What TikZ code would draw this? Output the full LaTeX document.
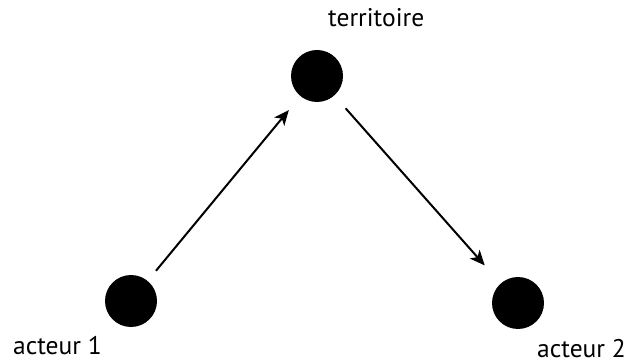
\documentclass[tikz,border=0pt]{standalone}
\usepackage{fontspec}
\setmainfont{PT Sans}
\usetikzlibrary{arrows.meta}
\begin{document}
\begin{tikzpicture}[x=1pt,y=-1pt,
  dot/.style={circle,fill=black,minimum size=52pt,inner sep=0pt},
  lbl/.style={inner sep=0pt,font=\fontsize{25.5}{30}\selectfont},
  conn/.style={line width=2pt,-{Stealth[length=15pt,width=13pt,inset=4pt]}}]
\useasboundingbox (0,0) rectangle (629,363);
\node[dot] (a1) at (131,301) {};
\node[dot] (t) at (317,76) {};
\node[dot] (a2) at (518,303) {};
\node[lbl,anchor=base west] (lt) at (328,27) {territoire};
\node[lbl,anchor=base west] (la1) at (13,354) {acteur 1};
\node[lbl,anchor=base east] (la2) at (626,357) {acteur 2};
\draw[conn,shorten <=13pt,shorten >=18pt] (a1) -- (t);
\draw[conn,shorten <=17pt,shorten >=24pt] (t) -- (a2);
\end{tikzpicture}
\end{document}
